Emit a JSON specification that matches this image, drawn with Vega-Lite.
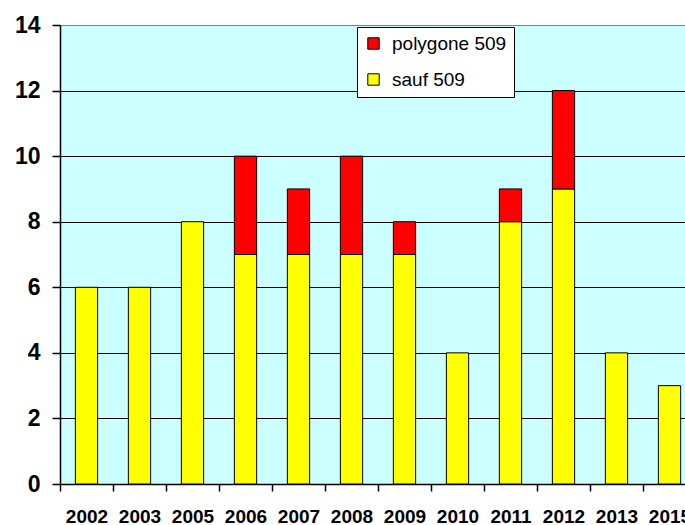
{
  "$schema": "https://vega.github.io/schema/vega-lite/v6.json",
  "autosize": {"type": "none"},
  "padding": {"left": 60, "top": 25, "right": 0, "bottom": 41},
  "width": 636,
  "height": 459,
  "background": "white",
  "config": {
    "view": {"fill": "#CCFFFF", "stroke": null},
    "font": "Liberation Sans"
  },
  "data": {
    "values": [
      {"year": "2002", "series": "sauf 509", "n": 6},
      {"year": "2003", "series": "sauf 509", "n": 6},
      {"year": "2005", "series": "sauf 509", "n": 8},
      {"year": "2006", "series": "sauf 509", "n": 7},
      {"year": "2006", "series": "polygone 509", "n": 3},
      {"year": "2007", "series": "sauf 509", "n": 7},
      {"year": "2007", "series": "polygone 509", "n": 2},
      {"year": "2008", "series": "sauf 509", "n": 7},
      {"year": "2008", "series": "polygone 509", "n": 3},
      {"year": "2009", "series": "sauf 509", "n": 7},
      {"year": "2009", "series": "polygone 509", "n": 1},
      {"year": "2010", "series": "sauf 509", "n": 4},
      {"year": "2011", "series": "sauf 509", "n": 8},
      {"year": "2011", "series": "polygone 509", "n": 1},
      {"year": "2012", "series": "sauf 509", "n": 9},
      {"year": "2012", "series": "polygone 509", "n": 3},
      {"year": "2013", "series": "sauf 509", "n": 4},
      {"year": "2015", "series": "sauf 509", "n": 3}
    ]
  },
  "mark": {"type": "bar", "width": {"band": 0.42}, "stroke": "black", "strokeWidth": 1},
  "encoding": {
    "x": {
      "field": "year", "type": "nominal",
      "scale": {"paddingInner": 0, "paddingOuter": 0},
      "axis": {
        "title": null, "labelAngle": 0, "tickBand": "extent",
        "labelFontSize": 19, "labelFontWeight": "bold", "labelColor": "black",
        "labelPadding": 16, "tickSize": 7, "tickColor": "black", "domainColor": "black",
        "domainWidth": 1.5, "tickWidth": 1.5, "grid": false
      }
    },
    "y": {
      "field": "n", "type": "quantitative", "aggregate": "sum", "stack": "zero",
      "scale": {"domain": [0, 14], "nice": false},
      "axis": {
        "title": null, "values": [0, 2, 4, 6, 8, 10, 12, 14],
        "labelFontSize": 23, "labelFontWeight": "bold", "labelColor": "black",
        "labelPadding": 12, "tickSize": 8, "tickColor": "black", "domainColor": "black",
        "domainWidth": 1.5, "tickWidth": 1.5,
        "grid": true, "gridWidth": 1.2,
        "gridColor": {"condition": {"test": "datum.value === 14", "value": "#808080"}, "value": "black"}
      }
    },
    "color": {
      "field": "series", "type": "nominal",
      "scale": {"domain": ["polygone 509", "sauf 509"], "range": ["#FF0000", "#FFFF00"]},
      "legend": {
        "title": null, "orient": "none", "legendX": 297, "legendY": 2,
        "fillColor": "white", "strokeColor": "black", "padding": 7,
        "labelFontSize": 19, "labelColor": "black", "labelOffset": 9,
        "symbolType": "square", "symbolSize": 130, "symbolStrokeColor": "black",
        "symbolStrokeWidth": 1, "rowPadding": 16, "labelLimit": 300
      }
    },
    "order": {"field": "series", "sort": "descending"}
  }
}
